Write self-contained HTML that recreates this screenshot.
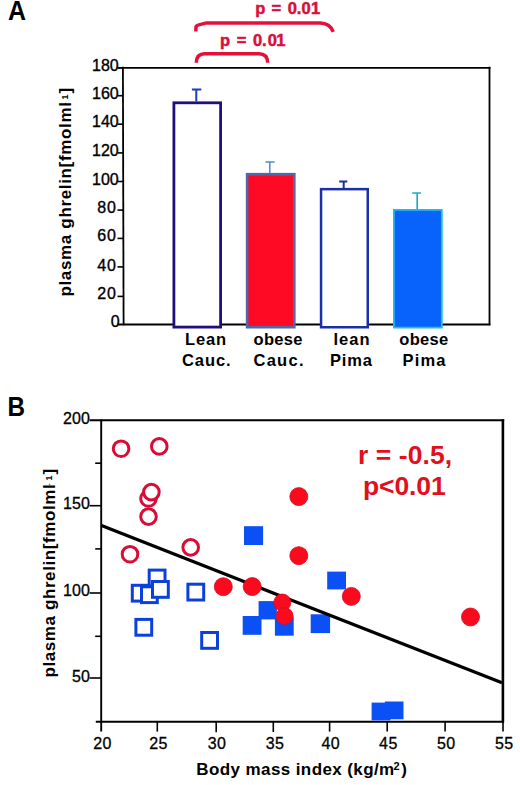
<!DOCTYPE html>
<html><head><meta charset="utf-8">
<style>
html,body{margin:0;padding:0;background:#fff;}
body{width:520px;height:785px;overflow:hidden;}
svg{display:block;}
text{font-family:"Liberation Sans",sans-serif;}
</style></head>
<body>
<svg width="520" height="785" viewBox="0 0 520 785">
<rect width="520" height="785" fill="#fff"/>
<!-- ================= PANEL A ================= -->
<text transform="translate(7.9,20.3) scale(0.925,1)" font-size="27" font-weight="bold" fill="#000">A</text>

<!-- p-value brackets -->
<g fill="none" stroke="#e3103c" stroke-width="3.5">
<path d="M195.9 31.6 L195.9 27.6 Q196 25.6 198.8 24.9 L206.5 22.9 L320 23 C327 23 331 26 333.3 31.9"/>
<path d="M196.3 62.7 C196.5 57 199 53.7 204.5 53.7 L259 53.7 C265 53.7 267.5 57 267.7 62.7"/>
</g>
<text x="255.2 265 271.5 282 287.8 296.7 301.6 311" y="14.2" font-size="16.5" font-weight="bold" fill="#d8103a" stroke="#d8103a" stroke-width="0.5">p = 0.01</text>
<text x="220.1 230 236.8 247 253.1 262.1 267.7 276.3" y="46" font-size="16.5" font-weight="bold" fill="#d8103a" stroke="#d8103a" stroke-width="0.5">p = 0.01</text>

<!-- frame -->
<g stroke="#000" stroke-width="1.8" fill="none">
<line x1="117.5" y1="67.8" x2="490.4" y2="67.8"/>
<line x1="489.5" y1="66.8" x2="489.5" y2="325.2"/>
<line x1="117.5" y1="324.5" x2="490.4" y2="324.5"/>
<line x1="122.9" y1="66.8" x2="123.6" y2="325.3"/>
</g>
<!-- y ticks A -->
<g stroke="#000" stroke-width="1.6">
<line x1="117.5" y1="67.8" x2="123" y2="67.8"/>
<line x1="117.5" y1="95.7" x2="123" y2="95.7"/>
<line x1="117.5" y1="124.2" x2="123" y2="124.2"/>
<line x1="117.5" y1="152.9" x2="123" y2="152.9"/>
<line x1="117.5" y1="181.5" x2="123" y2="181.5"/>
<line x1="117.5" y1="210.1" x2="123" y2="210.1"/>
<line x1="117.5" y1="238.4" x2="123" y2="238.4"/>
<line x1="117.5" y1="266.9" x2="123" y2="266.9"/>
<line x1="117.5" y1="296.4" x2="123" y2="296.4"/>
</g>
<g font-size="16" fill="#000" stroke="#000" stroke-width="0.35">
<text x="92" y="70.9">180</text>
<text x="92" y="99.1">160</text>
<text x="92" y="127">140</text>
<text x="92" y="156.3">120</text>
<text x="92" y="185">100</text>
<text x="97.2" y="213.1" letter-spacing="1">80</text>
<text x="97.2" y="241.4" letter-spacing="1">60</text>
<text x="97.2" y="270.7" letter-spacing="1">40</text>
<text x="97.2" y="299.1" letter-spacing="1">20</text>
<text x="110.7" y="327.3">0</text>
</g>
<text transform="translate(70.8,295.8) rotate(-90)" font-size="17" font-weight="bold" fill="#000"><tspan x="-0.8" letter-spacing="0.66">plasma ghrelin[fmolml</tspan><tspan x="191.2" y="-3.6" font-size="6">-</tspan><tspan x="196.2" y="-2.8" font-size="9">1</tspan><tspan x="202.4" y="0">]</tspan></text>

<!-- bars -->
<rect x="173.9" y="102.8" width="46.7" height="224.3" fill="#fff" stroke="#22107a" stroke-width="2.8"/>
<rect x="247.1" y="174.2" width="47.2" height="153" fill="#ff0a24" stroke="#5068aa" stroke-width="2.6"/>
<rect x="321.05" y="189.15" width="46.7" height="138.1" fill="#fff" stroke="#1a30a4" stroke-width="2.5"/>
<rect x="393.9" y="209.9" width="47.9" height="117.7" fill="#0862fc" stroke="#22bce8" stroke-width="1.8"/>
<!-- error bars -->
<g stroke-width="1.7" fill="none">
<path d="M196.3 101.5 V89.5 M191.9 89.5 H201.3" stroke="#1e3cb4" stroke-width="2"/>
<path d="M269.8 172.9 V162 M265.4 162 H274.6" stroke="#4a8ccc" stroke-width="1.5"/>
<path d="M343.7 187.9 V181.4 M339.2 181.4 H347.3" stroke="#1a30a0" stroke-width="2"/>
<path d="M417.2 209 V193 M412.2 193 H420.9" stroke="#20a8c8"/>
</g>
<!-- category labels -->
<g font-size="16.5" font-weight="bold" fill="#000">
<text x="185" y="344.6" textLength="41" lengthAdjust="spacing">Lean</text>
<text x="182" y="366.2" textLength="48.6" lengthAdjust="spacing">Cauc.</text>
<text x="253.5" y="344.6" textLength="49" lengthAdjust="spacing">obese</text>
<text x="253.5" y="366.2" textLength="50" lengthAdjust="spacing">Cauc.</text>
<text x="333.5" y="344.6" textLength="36" lengthAdjust="spacing">lean</text>
<text x="330" y="366.2" textLength="42" lengthAdjust="spacing">Pima</text>
<text x="399.3" y="344.6" textLength="48.8" lengthAdjust="spacing">obese</text>
<text x="402.5" y="366.2" textLength="43" lengthAdjust="spacing">Pima</text>
</g>

<!-- ================= PANEL B ================= -->
<text transform="translate(7.5,416.4) scale(0.9,1)" font-size="27" font-weight="bold" fill="#000">B</text>
<g stroke="#000" fill="none">
<line x1="89.6" y1="420.3" x2="504.2" y2="420.3" stroke-width="2"/>
<line x1="502.9" y1="419.3" x2="502.9" y2="722.5" stroke-width="2.6"/>
<line x1="95.8" y1="721.8" x2="504" y2="721.8" stroke-width="1.9"/>
<line x1="101.2" y1="419.5" x2="101.2" y2="731.6" stroke-width="1.9"/>
</g>
<g stroke="#000" stroke-width="1.6">
<line x1="89.6" y1="505.7" x2="101.2" y2="505.7"/>
<line x1="89.6" y1="593" x2="101.2" y2="593"/>
<line x1="89.6" y1="678" x2="101.2" y2="678"/>
<line x1="95.2" y1="463.2" x2="101.2" y2="463.2"/>
<line x1="95.2" y1="548.9" x2="101.2" y2="548.9"/>
<line x1="95.2" y1="636.3" x2="101.2" y2="636.3"/>
<line x1="157.3" y1="721.8" x2="157.3" y2="731.6"/>
<line x1="216.2" y1="721.8" x2="216.2" y2="732.2"/>
<line x1="273.3" y1="721.8" x2="273.3" y2="732"/>
<line x1="329.6" y1="721.8" x2="329.6" y2="731.6"/>
<line x1="387.2" y1="721.8" x2="387.2" y2="731.6"/>
<line x1="445.1" y1="721.8" x2="445.1" y2="731.6"/>
<line x1="503" y1="721.8" x2="503" y2="731.6"/>
</g>
<g font-size="16" fill="#000" stroke="#000" stroke-width="0.3" text-anchor="end">
<text x="89.8" y="424.4">200</text>
<text x="89.8" y="508.7">150</text>
<text x="89.8" y="596.2">100</text>
<text x="89.8" y="682">50</text>
</g>
<g font-size="16" fill="#000" stroke="#000" stroke-width="0.3" letter-spacing="0.4" text-anchor="middle">
<text x="102.5" y="748.8">20</text>
<text x="158.5" y="748.8">25</text>
<text x="217" y="748.8">30</text>
<text x="275" y="748.8">35</text>
<text x="330.8" y="748.8">40</text>
<text x="388.4" y="748.8">45</text>
<text x="446.3" y="748.8">50</text>
<text x="504.2" y="748.8">55</text>
</g>
<text x="196.3" y="775" font-size="17" font-weight="bold" fill="#000" letter-spacing="0.4">Body mass index (kg/m<tspan x="393.6" y="769.7" font-size="11" letter-spacing="0">2</tspan><tspan x="401.3" y="775">)</tspan></text>
<text transform="translate(54.8,676.8) rotate(-90)" font-size="17" font-weight="bold" fill="#000"><tspan x="-0.8" letter-spacing="0.6">plasma ghrelin[fmolml</tspan><tspan x="191.2" y="-3.6" font-size="6">-</tspan><tspan x="196.2" y="-2.8" font-size="9">1</tspan><tspan x="202.4" y="0">]</tspan></text>

<!-- r value -->
<g font-size="26.5" font-weight="bold" fill="#e0101e">
<text x="357.9" y="464.3" letter-spacing="0.1">r = -0.5,</text>
<text x="363" y="494.8" letter-spacing="-0.1">p&lt;0.01</text>
</g>

<!-- open squares -->
<g fill="#fff" stroke="#0c40d8" stroke-width="3">
<rect x="132.3" y="585.3" width="15.8" height="15.8"/>
<rect x="141.5" y="586.8" width="15.8" height="15.8"/>
<rect x="149.2" y="570.1" width="15.8" height="15.8"/>
<rect x="152.5" y="581.5" width="15.8" height="15.8"/>
<rect x="187.9" y="584.2" width="15.8" height="15.8"/>
<rect x="135.9" y="619.4" width="15.8" height="15.8"/>
<rect x="201.7" y="632.5" width="15.8" height="15.8"/>
</g>
<!-- open circles -->
<g fill="none" stroke="#d80c36" stroke-width="3">
<circle cx="121.1" cy="448.7" r="7.8"/>
<circle cx="159.3" cy="446.4" r="7.8"/>
<circle cx="148.5" cy="498.5" r="7.8"/>
<circle cx="151.4" cy="492.1" r="7.8" fill="#fff"/>
<circle cx="148.5" cy="516.6" r="7.8"/>
<circle cx="130" cy="554.2" r="7.8"/>
<circle cx="190.7" cy="547.4" r="7.8"/>
</g>
<!-- filled squares -->
<g fill="#0a50f4">
<rect x="242.7" y="616.0" width="18.8" height="18.8"/>
<rect x="258.6" y="601.1" width="18.3" height="18.3"/>
<rect x="274.9" y="616.9" width="18.8" height="18.8"/>
<rect x="244.0" y="526.2" width="19.1" height="18.8"/>
<rect x="327.2" y="571.6" width="18.8" height="17.8"/>
<rect x="310.7" y="614.3" width="19.4" height="18.8"/>
<rect x="371.6" y="702.6" width="18.8" height="17.8"/>
<rect x="384.9" y="701.5" width="18.6" height="17.8"/>
</g>
<!-- regression line -->
<line x1="101.5" y1="525.6" x2="502" y2="682.7" stroke="#000" stroke-width="3.2"/>
<!-- filled circles -->
<g fill="#fa0a1c" stroke="#d80a22" stroke-width="0.8">
<circle cx="223.3" cy="586.7" r="9"/>
<circle cx="252.2" cy="586.6" r="9"/>
<circle cx="282.3" cy="602.5" r="8.5"/>
<circle cx="284.6" cy="616.1" r="8.5"/>
<circle cx="298.8" cy="555.7" r="9"/>
<circle cx="351.3" cy="596.4" r="9"/>
<circle cx="298.8" cy="496.6" r="9"/>
<circle cx="470.5" cy="617" r="9"/>
</g>
</svg>
</body></html>
